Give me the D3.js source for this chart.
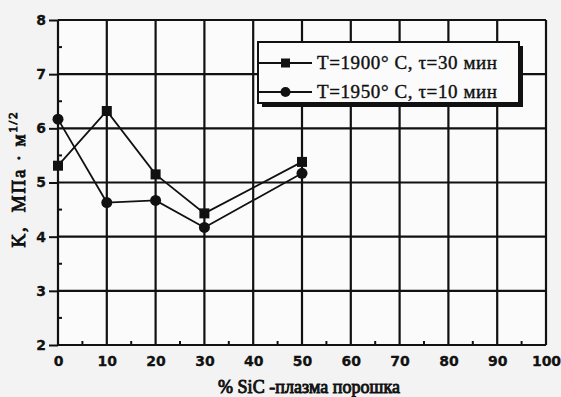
<!DOCTYPE html>
<html>
<head>
<meta charset="utf-8">
<script src="https://cdn.jsdelivr.net/npm/d3@7"></script>
<style>
  body { margin: 0; background: #f3f3f3; }
  svg { display: block; }
</style>
</head>
<body>
<div id="chart"></div>
<script>
const sicPercent = [0, 10, 20, 30, 50]
const k1900 = [5.31, 6.32, 5.15, 4.43, 5.38]
const k1950 = [6.17, 4.63, 4.67, 4.17, 5.17]
const seriesLabels = ["T=1900\u00b0 C, \u03c4=30 мин", "T=1950\u00b0 C, \u03c4=10 мин"]
const xTicks = [0, 10, 20, 30, 40, 50, 60, 70, 80, 90, 100]
const yTicks = [2, 3, 4, 5, 6, 7, 8]

const W = 561, H = 397
const margin = { top: 20, right: 15, bottom: 52, left: 58 }
const width = W - margin.left - margin.right
const height = H - margin.top - margin.bottom
const ink = "#111"
const serif = "'Liberation Serif', 'Times New Roman', serif"

const svg = d3.select("#chart").append("svg")
  .attr("width", W).attr("height", H)

const g = svg.append("g")
  .attr("transform", `translate(${margin.left},${margin.top})`)

const x = d3.scaleLinear().domain([0, 100]).range([0, width])
const y = d3.scaleLinear().domain([2, 8]).range([height, 0])

g.append("rect").attr("width", width).attr("height", height).attr("fill", "#fbfbfb")

// grid
g.selectAll(".vgrid").data(xTicks).join("line")
  .attr("x1", d => x(d)).attr("x2", d => x(d))
  .attr("y1", 0).attr("y2", height)
  .attr("stroke", ink).attr("stroke-width", 2.2)
g.selectAll(".hgrid").data(yTicks).join("line")
  .attr("x1", 0).attr("x2", width)
  .attr("y1", d => y(d)).attr("y2", d => y(d))
  .attr("stroke", ink).attr("stroke-width", 2.2)

// axes
const xAxis = d3.axisBottom(x).tickValues(xTicks).tickSize(0).tickPadding(11)
const yAxis = d3.axisLeft(y).tickValues(yTicks).tickFormat(d3.format("d")).tickSize(9).tickPadding(3)

g.append("g").attr("transform", `translate(0,${height})`).call(xAxis)
  .call(a => a.select(".domain").remove())
g.append("g").call(yAxis)
  .call(a => a.select(".domain").remove())

g.selectAll(".tick line").attr("stroke", ink).attr("stroke-width", 2)
g.selectAll(".tick text")
  .attr("font-family", "'DejaVu Sans', sans-serif")
  .attr("font-weight", "bold")
  .attr("font-size", 14)
  .style("fill", ink)
  .attr("stroke", ink).attr("stroke-width", 0.3)

// minor ticks
g.selectAll(".xminor").data(d3.range(5, 100, 10)).join("line")
  .attr("x1", d => x(d)).attr("x2", d => x(d))
  .attr("y1", height).attr("y2", height - 4)
  .attr("stroke", ink).attr("stroke-width", 2)
g.selectAll(".yminor").data(d3.range(2.5, 8, 1)).join("line")
  .attr("x1", 0).attr("x2", 4)
  .attr("y1", d => y(d)).attr("y2", d => y(d))
  .attr("stroke", ink).attr("stroke-width", 2)

// series
const line = d3.line().x(d => x(d[0])).y(d => y(d[1]))
const s1 = d3.zip(sicPercent, k1900)
const s2 = d3.zip(sicPercent, k1950)

g.append("path").datum(s1).attr("d", line)
  .attr("fill", "none").attr("stroke", ink).attr("stroke-width", 1.8)
g.append("path").datum(s2).attr("d", line)
  .attr("fill", "none").attr("stroke", ink).attr("stroke-width", 1.8)

g.selectAll(".sq").data(s1).join("rect")
  .attr("x", d => x(d[0]) - 5).attr("y", d => y(d[1]) - 5)
  .attr("width", 10).attr("height", 10).attr("fill", ink)
g.selectAll(".ci").data(s2).join("circle")
  .attr("cx", d => x(d[0])).attr("cy", d => y(d[1]))
  .attr("r", 5.5).attr("fill", ink)

// legend
const lg = svg.append("g").attr("transform", "translate(258,42)")
lg.append("rect").attr("x", 4).attr("y", 4).attr("width", 261).attr("height", 61).attr("fill", ink)
lg.append("rect").attr("x", 0).attr("y", 0).attr("width", 261).attr("height", 61)
  .attr("fill", "#fbfbfb").attr("stroke", ink).attr("stroke-width", 2)
const rows = [21, 50]
seriesLabels.forEach((label, i) => {
  const ry = rows[i]
  lg.append("line").attr("x1", 0).attr("x2", 54).attr("y1", ry).attr("y2", ry)
    .attr("stroke", ink).attr("stroke-width", 1.8)
  if (i === 0) {
    lg.append("rect").attr("x", 23).attr("y", ry - 4.5).attr("width", 9).attr("height", 9).attr("fill", ink)
  } else {
    lg.append("circle").attr("cx", 27.5).attr("cy", ry).attr("r", 5).attr("fill", ink)
  }
  lg.append("text").attr("x", 59).attr("y", ry + 6)
    .attr("font-family", serif)
    .attr("font-size", 19)
    .attr("fill", ink)
    .attr("stroke", ink).attr("stroke-width", 0.4)
    .attr("textLength", 180)
    .text(label)
})

// axis titles
svg.append("text")
  .attr("transform", `translate(25,180) rotate(-90)`)
  .attr("text-anchor", "middle")
  .attr("font-family", serif)
  .attr("font-size", 19)
  .attr("fill", ink)
  .attr("stroke", ink).attr("stroke-width", 0.9)
  .attr("textLength", 135)
  .attr("lengthAdjust", "spacing")
  .html("K,&#160;&#160;МПа · м<tspan dy='-8' font-size='13'>1/2</tspan>")

svg.append("text")
  .attr("x", 309).attr("y", 393)
  .attr("text-anchor", "middle")
  .attr("font-family", serif)
  .attr("font-size", 18)
  .attr("fill", ink)
  .attr("stroke", ink).attr("stroke-width", 0.9)
  .attr("textLength", 182)
  .text("% SiC -плазма порошка")
</script>
</body>
</html>
